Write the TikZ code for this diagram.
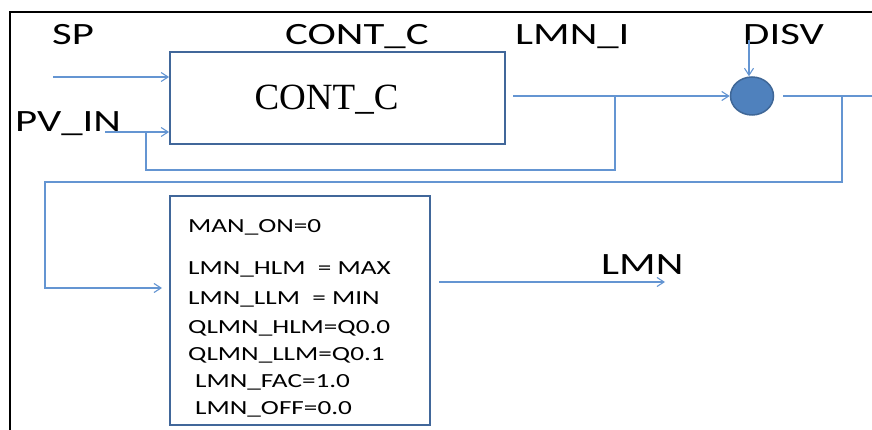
\documentclass[tikz,border=0pt]{standalone}
\usepackage{fontspec}
\setmainfont{Liberation Serif}
\newfontfamily\labelfont[FakeStretch=1.38]{Carlito}
\newfontfamily\paramfont[FakeStretch=1.36]{Carlito}
\usetikzlibrary{arrows.meta}
\usetikzlibrary{positioning}
\usetikzlibrary{shapes.geometric}
\definecolor{wireblue}{RGB}{100,149,210}
\definecolor{boxblue}{RGB}{65,103,154}
\definecolor{sumfill}{RGB}{79,129,189}
\tikzset{
    wire/.style = {draw=wireblue,line width=1.1pt},
    sig/.style = {wire,-{Straight Barb[length=7pt,width=9pt]}},
    blockbox/.style = {draw=boxblue,line width=1.8pt,inner sep=0}
}
\tikzset{
    sumpt/.style = {shape=ellipse,draw=sumfill!80!black,fill=sumfill,line width=1.5pt,inner sep=0,minimum width=43pt,minimum height=38pt},
    signame/.style = {font=\labelfont\fontsize{31}{31}\selectfont,anchor=base west,inner sep=0},
    param/.style = {font=\paramfont\fontsize{20}{20}\selectfont,anchor=base west,inner sep=0}
}

\begin{document}
\begin{tikzpicture}[x=1pt,y=-1pt]
        \useasboundingbox (0,0) rectangle (872,430);
        % Frame
        \draw[line width=1.6pt] (10,430) -- (10,12) -- (872,12);
        % Blocks
        \node[blockbox,minimum width=335pt,minimum height=92pt] (cont) at (337.5,98) {};
        \node[font=\fontsize{37}{37}\selectfont,inner sep=0,anchor=base] (contname) at (326.5,110) {CONT\_C};
        \node[sumpt] (sum) at (752,96) {};
        \node[blockbox,minimum width=260pt,minimum height=229pt] (lim) at (300,310.5) {};
        % Signal names
        \node[signame] (sp) at (52,45) {SP};
        \node[signame] (contlbl) at (285,45) {CONT\_C};
        \node[signame] (lmnilbl) at (515,45) {LMN\_I};
        \node[signame] (disv) at (743,45) {DISV};
        \node[signame] (pv) at (15,132) {PV\_IN};
        \node[signame] (lmn) at (601,274) {LMN};
        % Parameters
        \foreach \i/\x/\y/\txt in {1/188/233/{MAN\_ON=0},2/188/274/{LMN\_HLM\ \ = MAX},3/188/304/{LMN\_LLM\ \ = MIN},
                4/188/333/{QLMN\_HLM=Q0.0},5/188/360/{QLMN\_LLM=Q0.1},6/195/387/{LMN\_FAC=1.0},7/195/414/{LMN\_OFF=0.0}}
            \node[param] (p\i) at (\x,\y) {\txt};
        % Wire ends
        \path (53,77) coordinate (spin)
            (105,132) coordinate (pvin)
            (146,132) coordinate (fbk)
            (146,170) coordinate (fbkdn)
            (513,96) coordinate (lmni)
            (615,96) coordinate (tap)
            (749,40) coordinate (disvin)
            (783,96) coordinate (sumout)
            (872,96) coordinate (rightend)
            (842,96) coordinate (ret)
            (842,182) coordinate (retdn)
            (45,182) coordinate (retleft)
            (162,288) coordinate (limin)
            (439,282) coordinate (limout)
            (665,282) coordinate (lmnout)
        ;
        % Signals
        \draw[sig] (spin) -- (cont.west |- spin);
        \draw[sig] (pvin) -- (cont.west |- pvin);
        \draw[wire] (fbk) -- (fbkdn) -| (tap);
        \draw[sig] (lmni) -- (sum.west);
        \draw[sig] (disvin) -- (disvin |- sum.north);
        \draw[wire] (sumout) -- (rightend);
        \draw[sig] (ret) -- (retdn) -- (retleft) -- (retleft |- limin) -- (limin);
        \draw[sig] (limout) -- (lmnout);
    \end{tikzpicture}
\end{document}
